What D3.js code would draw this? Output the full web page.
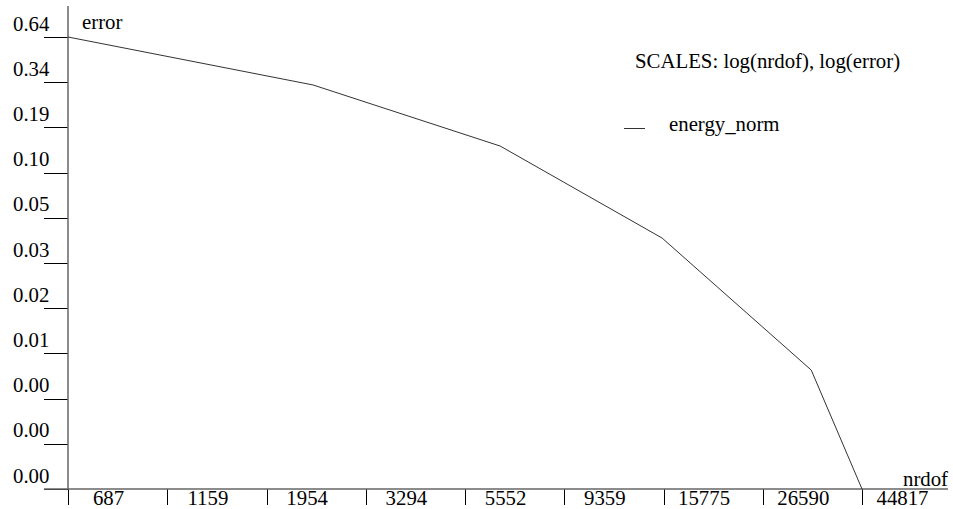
<!DOCTYPE html>
<html>
<head>
<meta charset="utf-8">
<script src="https://cdn.jsdelivr.net/npm/d3@7"></script>
<style>
  body { margin: 0; background: #fff; }
</style>
</head>
<body>
<script>
// data (log-log convergence plot)
var nrdof = [687, 2494, 6675, 15655, 34315, 44817];
var energyNorm = [0.64, 0.3315, 0.1435, 0.0406, 0.00664, 0.0013];

// tick values
var xTicks = [687, 1159, 1954, 3294, 5552, 9359, 15775, 26590, 44817];
var yTicks = [0.64, 0.3443, 0.1852, 0.0997, 0.0536, 0.0288, 0.0155, 0.00835, 0.00449, 0.00242, 0.0013];

var width = 953, height = 509;
var plotLeft = 68, plotRight = 862, plotTop = 37, plotBottom = 489;
var serif = "'Liberation Serif', 'Times New Roman', Times, 'DejaVu Serif', serif";
var fontSize = 20.8;

var svg = d3.select("body").append("svg")
    .attr("width", width)
    .attr("height", height)
    .attr("font-family", serif)
    .attr("font-size", fontSize);

// log scales on both axes
var x = d3.scaleLog().domain(d3.extent(nrdof)).range([plotLeft, plotRight]);
var y = d3.scaleLog().domain(d3.extent(energyNorm)).range([plotBottom, plotTop]);

// y axis: ticks going left, labels sitting above each tick
var yAxis = svg.append("g")
    .attr("transform", "translate(" + plotLeft + ",0)")
    .call(d3.axisLeft(y).tickValues(yTicks).tickSize(24).tickSizeOuter(0)
        .tickFormat(d3.format(".2f")));
yAxis.attr("font-family", serif).attr("font-size", fontSize);
yAxis.select(".domain").remove();
yAxis.selectAll(".tick line").attr("stroke", "#000").attr("shape-rendering", "crispEdges");
yAxis.selectAll(".tick text")
    .attr("x", -55).attr("dy", -7)
    .attr("fill", "#000")
    .style("text-anchor", "start");

// x axis: ticks hanging down, labels shifted right of each tick
var xAxis = svg.append("g")
    .attr("transform", "translate(0," + plotBottom + ")")
    .call(d3.axisBottom(x).tickValues(xTicks).tickSize(16).tickSizeOuter(0)
        .tickFormat(function(d) { return d; }));
xAxis.attr("font-family", serif).attr("font-size", fontSize);
xAxis.select(".domain").remove();
xAxis.selectAll(".tick line").attr("stroke", "#000").attr("shape-rendering", "crispEdges");
xAxis.selectAll(".tick text")
    .attr("x", 40).attr("y", 16).attr("dy", 0)
    .attr("fill", "#000")
    .style("text-anchor", "middle");

// axis lines
svg.append("line")
    .attr("x1", plotLeft).attr("x2", plotLeft)
    .attr("y1", 6).attr("y2", plotBottom)
    .attr("stroke", "#666").attr("stroke-width", 1.5);
svg.append("line")
    .attr("x1", 44).attr("x2", 948)
    .attr("y1", plotBottom).attr("y2", plotBottom)
    .attr("stroke", "#666").attr("stroke-width", 1.5);

// the curve
var line = d3.line()
    .x(function(d, i) { return x(nrdof[i]); })
    .y(function(d) { return y(d); });

svg.append("path")
    .datum(energyNorm)
    .attr("fill", "none")
    .attr("stroke", "#333")
    .attr("stroke-width", 1)
    .attr("d", line);

// axis titles
svg.append("text").attr("x", 82).attr("y", 29).text("error");
svg.append("text").attr("x", 903).attr("y", 486).text("nrdof");

// scales note and legend
svg.append("text").attr("x", 635).attr("y", 68).text("SCALES: log(nrdof), log(error)");
svg.append("line")
    .attr("x1", 624).attr("x2", 645)
    .attr("y1", 128.5).attr("y2", 128.5)
    .attr("stroke", "#333");
svg.append("text").attr("x", 669).attr("y", 131).text("energy_norm");
</script>
</body>
</html>
